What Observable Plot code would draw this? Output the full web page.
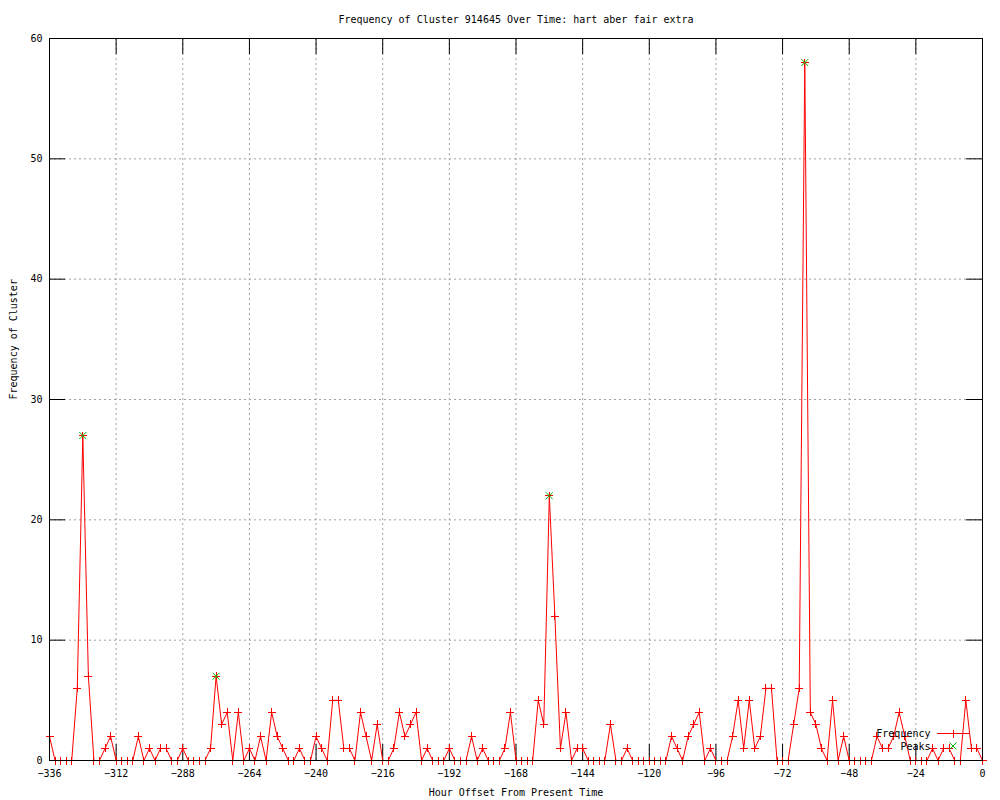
<!DOCTYPE html>
<html><head><meta charset="utf-8">
<script src="https://cdn.jsdelivr.net/npm/d3@7"></script>
<script src="https://cdn.jsdelivr.net/npm/@observablehq/plot@0.6"></script>
<style>html,body{margin:0;padding:0;background:#fff}svg{display:block}</style>
</head><body><div id="chart"></div>
<script>
const hours = [
-336,-334,-332,-330,-328,-326,-324,-322,-320,-318,
-316,-314,-312,-310,-308,-306,-304,-302,-300,-298,
-296,-294,-292,-290,-288,-286,-284,-282,-280,-278,
-276,-274,-272,-270,-268,-266,-264,-262,-260,-258,
-256,-254,-252,-250,-248,-246,-244,-242,-240,-238,
-236,-234,-232,-230,-228,-226,-224,-222,-220,-218,
-216,-214,-212,-210,-208,-206,-204,-202,-200,-198,
-196,-194,-192,-190,-188,-186,-184,-182,-180,-178,
-176,-174,-172,-170,-168,-166,-164,-162,-160,-158,
-156,-154,-152,-150,-148,-146,-144,-142,-140,-138,
-136,-134,-132,-130,-128,-126,-124,-122,-120,-118,
-116,-114,-112,-110,-108,-106,-104,-102,-100,-98,
-96,-94,-92,-90,-88,-86,-84,-82,-80,-78,
-76,-74,-72,-70,-68,-66,-64,-62,-60,-58,
-56,-54,-52,-50,-48,-46,-44,-42,-40,-38,
-36,-34,-32,-30,-28,-26,-24,-22,-20,-18,
-16,-14,-12,-10,-8,-6,-4,-2,0];
const frequency = [
2,0,0,0,0,6,27,7,0,0,
1,2,0,0,0,0,2,0,1,0,
1,1,0,0,1,0,0,0,0,1,
7,3,4,0,4,0,1,0,2,0,
4,2,1,0,0,1,0,0,2,1,
0,5,5,1,1,0,4,2,0,3,
0,0,1,4,2,3,4,0,1,0,
0,0,1,0,0,0,2,0,1,0,
0,0,1,4,0,0,0,0,5,3,
22,12,1,4,0,1,1,0,0,0,
0,3,0,0,1,0,0,0,0,0,
0,0,2,1,0,2,3,4,0,1,
0,0,0,2,5,1,5,1,2,6,
6,0,0,0,3,6,58,4,3,1,
0,5,0,2,0,0,0,0,0,2,
1,1,2,4,2,0,0,0,0,1,
0,1,1,0,0,5,1,1,0];
const peakHours = [-324, -276, -156, -64];
const peakValues = [27, 7, 22, 58];
const xTicks = [-336,-312,-288,-264,-240,-216,-192,-168,-144,-120,-96,-72,-48,-24,0];
const yTicks = [0,10,20,30,40,50,60];
const titleText = "Frequency of Cluster 914645 Over Time: hart aber fair extra";
const xLabel = "Hour Offset From Present Time";
const yLabel = "Frequency of Cluster";
const seriesNames = ["Frequency", "Peaks"];

const freqData = hours.map((h, i) => ({h, v: frequency[i]}));
const peakData = peakHours.map((h, i) => ({h, v: peakValues[i]}));

const FONT = "'DejaVu Sans Mono','Liberation Mono',monospace";
const W = 1000, H = 800, mL = 49, mR = 18, mT = 38, mB = 40;
const tickLen = 16;
const innerW = W - mL - mR, innerH = H - mT - mB;

const plusSym = {draw(ctx) { const r = 4; ctx.moveTo(-r, 0); ctx.lineTo(r, 0); ctx.moveTo(0, -r); ctx.lineTo(0, r); }};
const timesSym = {draw(ctx) { const r = 3.5; ctx.moveTo(-r, -r); ctx.lineTo(r, r); ctx.moveTo(-r, r); ctx.lineTo(r, -r); }};

const svg = Plot.plot({
  width: W, height: H,
  marginLeft: mL, marginRight: mR, marginTop: mT, marginBottom: mB,
  style: {fontFamily: FONT, fontSize: "10px", background: "white", color: "black"},
  x: {domain: [-336, 0]},
  y: {domain: [0, 60]},
  marks: [
    Plot.gridX({ticks: xTicks, stroke: "#a0a0a0", strokeOpacity: 1, strokeDasharray: "2,3"}),
    Plot.gridY({ticks: yTicks, stroke: "#a0a0a0", strokeOpacity: 1, strokeDasharray: "2,3"}),
    Plot.tickX(xTicks, {x: d => d, insetTop: innerH - tickLen, stroke: "black"}),
    Plot.tickX(xTicks, {x: d => d, insetBottom: innerH - tickLen, stroke: "black"}),
    Plot.tickY(yTicks, {y: d => d, insetRight: innerW - tickLen, stroke: "black"}),
    Plot.tickY(yTicks, {y: d => d, insetLeft: innerW - tickLen, stroke: "black"}),
    Plot.axisX({ticks: xTicks, tickSize: 0, tickPadding: 9, label: null, fill: "black"}),
    Plot.axisY({ticks: yTicks, tickSize: 0, tickPadding: 7, label: null, fill: "black"}),
    Plot.line(freqData, {x: "h", y: "v", stroke: "#ff0000", strokeWidth: 1}),
    Plot.dot(freqData, {x: "h", y: "v", symbol: plusSym, stroke: "#ff0000", strokeWidth: 1, shapeRendering: "crispEdges"}),
    Plot.dot(peakData, {x: "h", y: "v", symbol: timesSym, stroke: "#00c000", strokeWidth: 1}),
    Plot.frame({stroke: "black"}),
    Plot.text([titleText], {frameAnchor: "top", dy: -23, fill: "black", fontSize: 10}),
    Plot.text([xLabel], {frameAnchor: "bottom", dy: 35, fill: "black", fontSize: 10}),
    Plot.text([yLabel], {frameAnchor: "left", dx: -36, rotate: -90, fill: "black", fontSize: 10}),
    Plot.text([seriesNames[0]], {frameAnchor: "bottom-right", dx: -52, dy: -24, textAnchor: "end", fill: "black", fontSize: 10}),
    Plot.text([seriesNames[1]], {frameAnchor: "bottom-right", dx: -52, dy: -11, textAnchor: "end", fill: "black", fontSize: 10})
  ]
});

// legend samples
const g = d3.select(svg).append("g");
g.append("line").attr("x1", 937).attr("x2", 970).attr("y1", 733.5).attr("y2", 733.5).attr("stroke", "#ff0000");
g.append("path").attr("d", "M949,733.5H957M953,729.5V737.5").attr("stroke", "#ff0000").attr("shape-rendering", "crispEdges");
g.append("path").attr("d", "M949.5,742.5L956.5,749.5M949.5,749.5L956.5,742.5").attr("stroke", "#00c000");

document.getElementById("chart").appendChild(svg);
</script>
</body></html>
